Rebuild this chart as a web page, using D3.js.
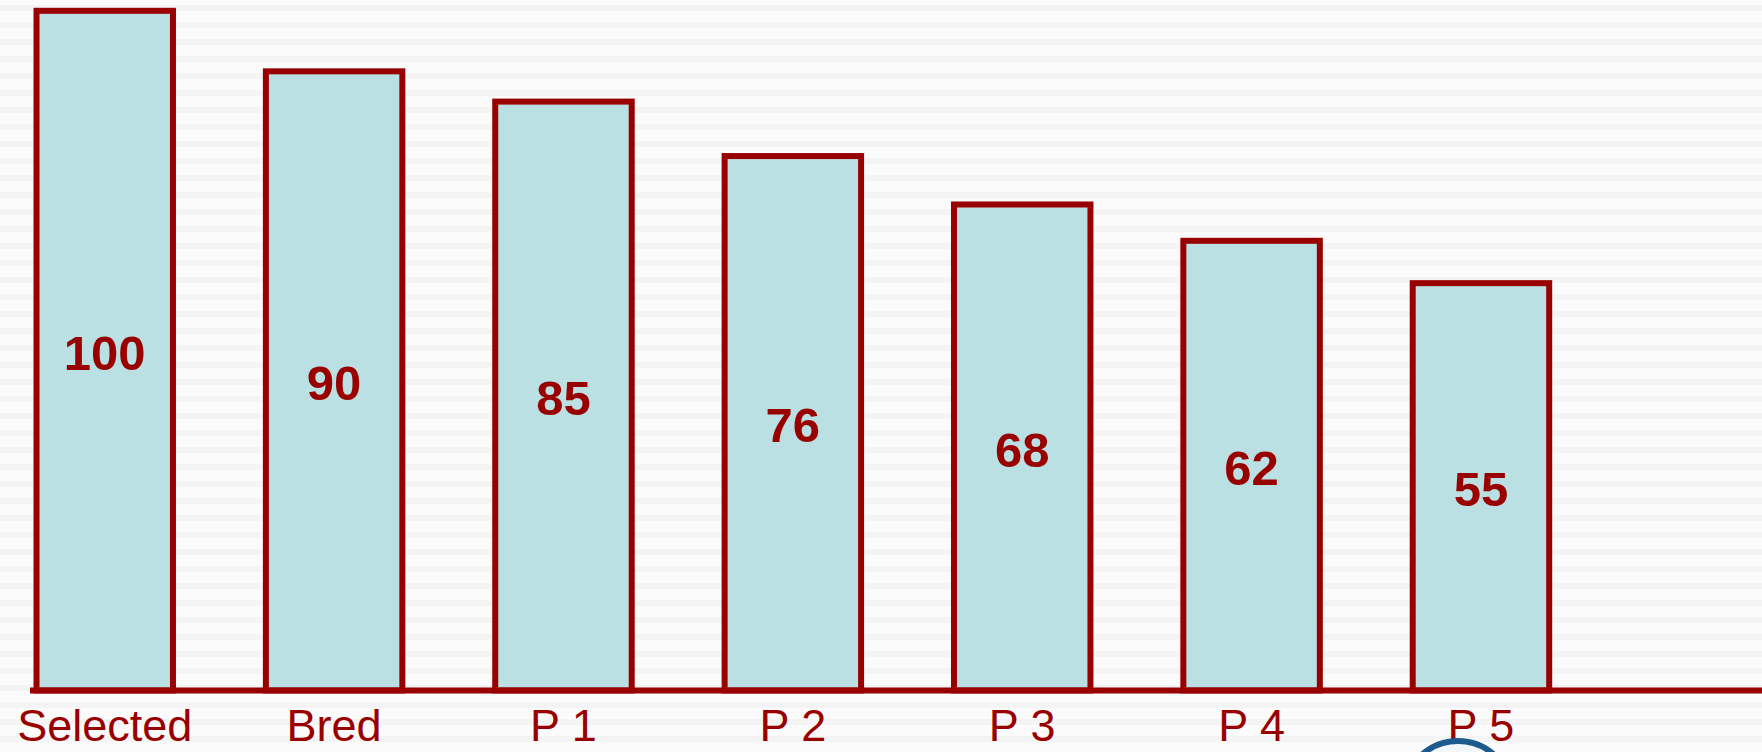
<!DOCTYPE html>
<html>
<head>
<meta charset="utf-8">
<script src="https://d3js.org/d3.v7.min.js"></script>
<style>
  html, body { margin: 0; padding: 0; background: #fafafa; overflow: hidden; }
  svg { display: block; }
</style>
</head>
<body>
<div id="chart"></div>
<script>
//Chart data
var categories = ["Selected", "Bred", "P 1", "P 2", "P 3", "P 4", "P 5"];
var values = [100, 90, 85, 76, 68, 62, 55];

//Set up properies
var width = 1762;
var height = 752;
var baseY = 690.5;
var red = "#990000";
var fillColor = "#bae0e3";

var svg = d3.select("#chart")
            .append("svg")
            .attr("width", width)
            .attr("height", height);

//faint horizontal streaks in the background
var defs = svg.append("defs");
var pat = defs.append("pattern")
              .attr("id", "streaks")
              .attr("patternUnits", "userSpaceOnUse")
              .attr("width", width)
              .attr("height", 17);
pat.append("rect").attr("width", width).attr("height", 17).attr("fill", "#fbfbfb");
pat.append("rect").attr("y", 5).attr("width", width).attr("height", 6).attr("fill", "#f4f4f4");

svg.append("rect")
   .attr("width", width)
   .attr("height", height)
   .attr("fill", "url(#streaks)");

//scales - the value axis does not start at zero in the original
var x = d3.scaleBand()
          .domain(categories)
          .range([36.5, 1549.2])
          .paddingInner(0.405)
          .paddingOuter(0);

var y = d3.scaleLinear()
          .domain([-12.3, 100])
          .range([baseY, 10.8]);

var data = categories.map(function(c, i) { return {name: c, value: values[i]}; });

//bars
svg.selectAll(".bar")
   .data(data)
   .enter()
   .append("rect")
   .attr("class", "bar")
   .attr("x", function(d) { return x(d.name); })
   .attr("y", function(d) { return y(d.value); })
   .attr("width", x.bandwidth())
   .attr("height", function(d) { return baseY - y(d.value); })
   .attr("fill", fillColor)
   .attr("stroke", red)
   .attr("stroke-width", 6);

//base line
svg.append("line")
   .attr("x1", 30)
   .attr("x2", width)
   .attr("y1", baseY)
   .attr("y2", baseY)
   .attr("stroke", red)
   .attr("stroke-width", 6);

//value labels in the middle of each bar
svg.selectAll(".val")
   .data(data)
   .enter()
   .append("text")
   .attr("class", "val")
   .attr("x", function(d) { return x(d.name) + x.bandwidth() / 2; })
   .attr("y", function(d) { return (y(d.value) + baseY) / 2 + 1.5; })
   .attr("dy", "0.36em")
   .attr("text-anchor", "middle")
   .style("font-family", "Liberation Sans, Arial, sans-serif")
   .style("font-weight", "bold")
   .style("font-size", "49px")
   .attr("fill", red)
   .text(function(d) { return d.value; });

//category labels under the base line
svg.selectAll(".cat")
   .data(data)
   .enter()
   .append("text")
   .attr("class", "cat")
   .attr("x", function(d) { return x(d.name) + x.bandwidth() / 2; })
   .attr("y", 741)
   .attr("text-anchor", "middle")
   .style("font-family", "Liberation Sans, Arial, sans-serif")
   .style("font-size", "45px")
   .attr("fill", red)
   .text(function(d) { return d.name; });

//partly hidden logo ring at the bottom edge
svg.append("circle")
   .attr("cx", 1458)
   .attr("cy", 795)
   .attr("r", 54)
   .attr("fill", "#f3f6fa")
   .attr("stroke", "#1d5a8e")
   .attr("stroke-width", 6);
</script>
</body>
</html>
